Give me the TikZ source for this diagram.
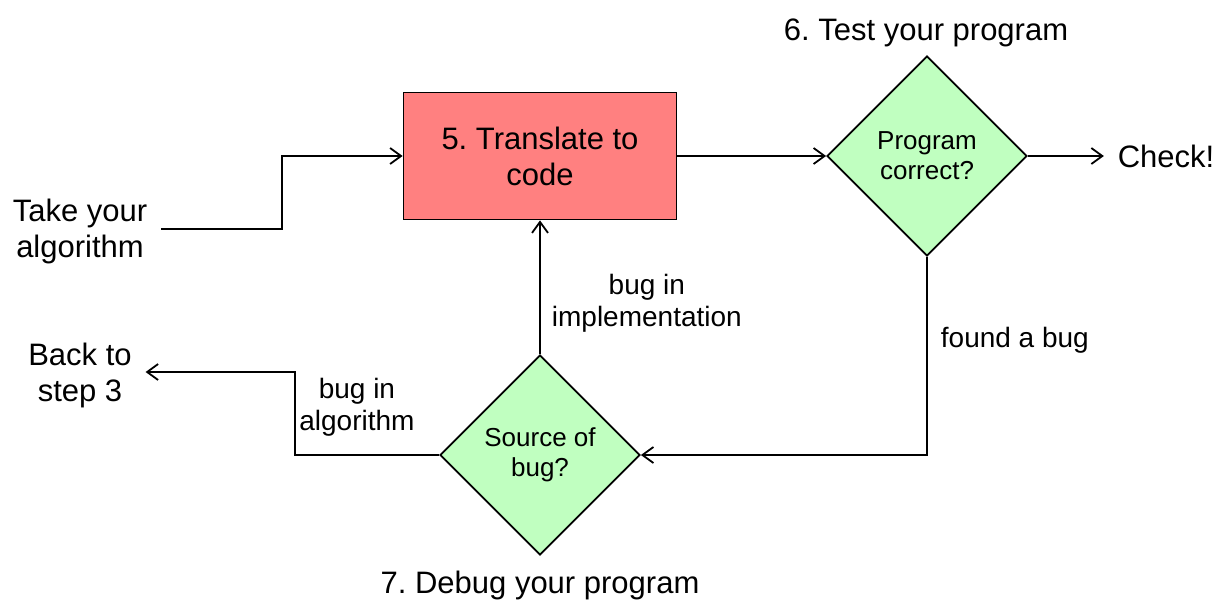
\documentclass[tikz,border=0pt]{standalone}
\usepackage{fontspec}
\setmainfont{Liberation Sans}
\frenchspacing
\usetikzlibrary{shapes.geometric, arrows.meta, calc}
\definecolor{codered}{HTML}{FF8080}
\definecolor{decgreen}{HTML}{C0FFC0}

\begin{document}
\begin{tikzpicture}[x=1pt, y=-1pt, line width=1.8pt]
    \tikzstyle{process} = [rectangle, minimum width=273pt, minimum height=127pt, text centered, draw=black, fill=codered, align=center, font=\fontsize{31}{36}\selectfont]
    \tikzstyle{decision} = [diamond, minimum width=200pt, minimum height=200pt, inner sep=0pt, aspect=1, text centered, draw=black, fill=decgreen, align=center, font=\fontsize{26}{30}\selectfont]
    \tikzstyle{plain} = [align=center, inner sep=13pt, font=\fontsize{31}{36}\selectfont]
    \tikzstyle{edgetext} = [align=center, inner sep=4pt, font=\fontsize{28}{32}\selectfont]
    \tikzstyle{arrow} = [->, >={Straight Barb[length=11pt, width=16pt]}]
    \useasboundingbox (0,0) rectangle (1230,614);
    % Nodes
    \node (code) [process] at (540,156) {5. Translate to\\code};
    \node (test) [decision] at (927,156) {Program\\correct?};
    \node (debug) [decision] at (540,455) {Source of\\bug?};
    \node (take) [plain] at (80,231) {Take your\\algorithm};
    \node (back) [plain] at (80,375) {Back to\\step 3};
    \node (check) [plain] at (1166,156) {Check!};
    \node (testtitle) [plain] at (926,33) {6. Test your program};
    \node (debugtitle) [plain] at (540,585) {7. Debug your program};
    \coordinate (bendA) at (282,229);
    \coordinate (bendB) at (295,455);
    % Arrows
    \draw [arrow] (take.east |- bendA) -- (bendA) |- (code.west);
    \draw [arrow] (code.east) -- (test.west);
    \draw [arrow] (test.east) -- (check.west);
    \draw [arrow] (test.south) |- node[pos=0.21, anchor=west, edgetext, inner sep=13pt] {found a bug} (debug.east);
    \draw [arrow] (debug.north) -- node[pos=0.38, anchor=west, edgetext, inner sep=11pt] {bug in\\implementation} (code.south);
    \draw [arrow] (debug.west) -- node[pos=0.57, above=14pt, edgetext] {bug in\\algorithm} (bendB) |- ([yshift=3pt]back.east);
\end{tikzpicture}
\end{document}
